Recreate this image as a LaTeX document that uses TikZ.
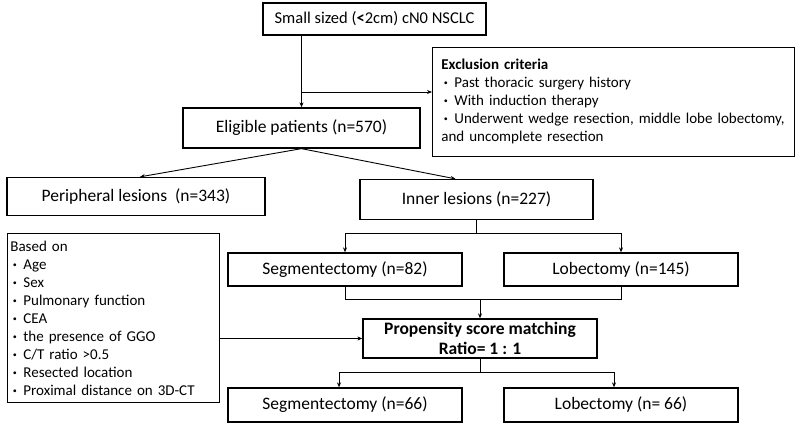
\documentclass[tikz,border=0pt]{standalone}
\usepackage{fontspec}
\setmainfont{Carlito}
\usetikzlibrary{arrows.meta}
\newcommand{\bul}{\makebox[13pt][l]{\hspace{2.5pt}\textbf{\textperiodcentered}}}
\begin{document}
\begin{tikzpicture}[x=1pt, y=-1pt, font=\fontsize{17.5}{20}\selectfont]
    \tikzset{%
      stepbox/.style={draw, line width=1.3pt, inner sep=0pt, align=center},
      listbox/.style={draw, line width=0.8pt, inner xsep=3pt, inner ysep=2pt, align=left, anchor=north west,
        font=\fontsize{15}{18}\selectfont},
      conn/.style={line width=0.9pt, -{Stealth[length=5pt, width=4pt]}}
      }
    \useasboundingbox (0,0) rectangle (800,425);

    \node [stepbox, minimum width=223pt, minimum height=32pt, font=\fontsize{16.5}{20}\selectfont] (Ytop) at (374.5,19) {Small sized (\textbf{<}2cm) cN0 NSCLC};
    \node [stepbox, minimum width=237pt, minimum height=40pt] (Yelig) at (301.5,128) {Eligible patients (n=570)};
    \node [listbox, minimum height=109pt, inner xsep=9pt, text width=344pt] (Yexcl) at (432,47) {\textbf{Exclusion criteria}\\
      \bul Past thoracic surgery history\\
      \bul With induction therapy\\
      \bul Underwent wedge resection, middle lobe lobectomy,\\
      and uncomplete resection};

    \node [stepbox, minimum width=258pt, minimum height=38pt] (Yperi) at (136,196.5) {Peripheral lesions~~(n=343)};
    \node [stepbox, minimum width=233pt, minimum height=40pt] (Yinner) at (476.5,199.5) {Inner lesions (n=227)};

    \node [stepbox, minimum width=234pt, minimum height=33pt] (Ysegm) at (345,269.5) {Segmentectomy (n=82)};
    \node [stepbox, minimum width=234pt, minimum height=33pt] (Ylobe) at (621,269.5) {Lobectomy (n=145)};

    \node [listbox, text width=206pt, minimum height=169pt] (Ybased) at (7,233) {Based on\\
      \bul Age\\
      \bul Sex\\
      \bul Pulmonary function\\
      \bul CEA\\
      \bul the presence of GGO\\
      \bul C/T ratio >0.5\\
      \bul Resected location\\
      \bul Proximal distance on 3D-CT};
    \node [stepbox, minimum width=234pt, minimum height=39pt, font=\fontsize{17.5}{20.5}\selectfont\bfseries] (Ypsm) at (480,338.5) {Propensity score matching\\Ratio= 1 : 1};

    \node [stepbox, minimum width=234pt, minimum height=34pt] (Ysegm2) at (345,405) {Segmentectomy (n=66)};
    \node [stepbox, minimum width=234pt, minimum height=34pt] (Ylobe2) at (621,405) {Lobectomy (n= 66)};

    \coordinate (Ybranch) at (Yelig.north |- 0,92);
    \draw [conn] (Ytop.south -| Yelig.north) -- (Yelig.north);
    \draw [conn] (Ybranch) -- (Ybranch -| Yexcl.west);

    \draw [conn] (Yelig.south) -- ([xshift=4pt]Yperi.north);
    \draw [conn] (Yelig.south) -- ([xshift=-21pt]Yinner.north);

    \coordinate (Ysplit) at (Yinner.south |- 0,233);
    \draw [line width=0.9pt] (Yinner.south) -- (Ysplit);
    \draw [conn] (Ysplit) -| (Ysegm.north);
    \draw [conn] (Ysplit) -| (Ylobe.north);

    \coordinate (Ymerge) at (Ypsm.north |- 0,299);
    \draw [line width=0.9pt] (Ysegm.south) |- (Ymerge);
    \draw [line width=0.9pt] (Ylobe.south) |- (Ymerge);
    \draw [conn] (Ymerge) -- (Ypsm.north);

    \draw [conn] (Ybased.east |- Ypsm.west) -- (Ypsm.west);

    \coordinate (Ysplit2) at (Ypsm.south |- 0,372);
    \draw [line width=0.9pt] (Ypsm.south) -- (Ysplit2);
    \draw [conn] (Ysplit2) -| ([xshift=-6pt]Ysegm2.north);
    \draw [conn] (Ysplit2) -| ([xshift=-7pt]Ylobe2.north);
\end{tikzpicture}
\end{document}
